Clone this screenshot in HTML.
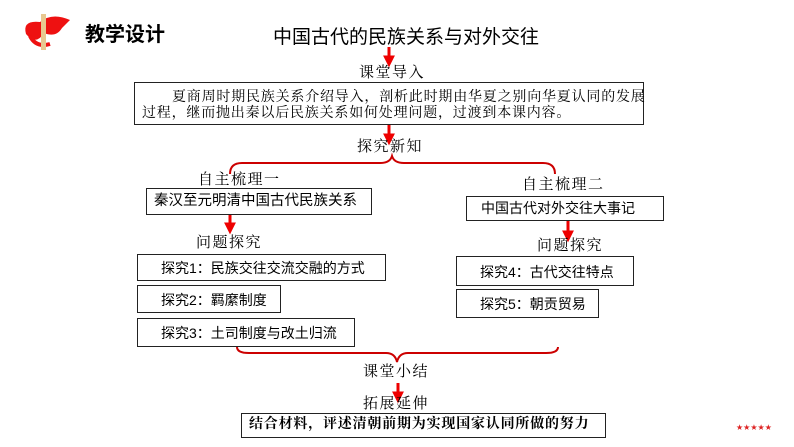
<!DOCTYPE html>
<html><head><meta charset="utf-8"><style>
html,body{margin:0;padding:0;background:#fff;}
body{width:794px;height:447px;position:relative;overflow:hidden;}
.t{position:absolute;white-space:nowrap;color:#000;line-height:1;}
.s{font-family:"Liberation Serif","Noto Serif CJK SC",serif;font-size:14px;letter-spacing:0.8px;}
.l{font-family:"Liberation Serif","Noto Serif CJK SC",serif;font-size:15px;letter-spacing:1.5px;}
.a{font-family:"Liberation Sans","Noto Sans CJK SC",sans-serif;font-size:14px;}
.b{position:absolute;border:1.3px solid #222;box-sizing:border-box;}
</style></head><body>
<svg width="794" height="447" style="position:absolute;left:0;top:0">
<defs><marker id="ar" markerWidth="4" markerHeight="4" refX="2.2" refY="2" orient="auto" markerUnits="strokeWidth"><path d="M0,0 L4,2 L0,4 z" fill="#e00"/></marker></defs>
<g stroke="#e00" stroke-width="3" fill="none">
<line x1="389" y1="47" x2="389" y2="62" marker-end="url(#ar)"/>
<line x1="389" y1="124" x2="389" y2="140" marker-end="url(#ar)"/>
<line x1="230" y1="214" x2="230" y2="229" marker-end="url(#ar)"/>
<line x1="568" y1="220" x2="568" y2="237" marker-end="url(#ar)"/>
<line x1="398" y1="383" x2="398" y2="398" marker-end="url(#ar)"/>
</g>
<g stroke="#c00" stroke-width="2" fill="none">
<path d="M230,174 Q230,163 242,163 L380,163 Q390,163 392,156 Q394,163 404,163 L543,163 Q555,163 555,174"/>
<path d="M237,347 Q237,353 249,353 L386,353 Q395,353 397,362 Q399,353 408,353 L546,353 Q558,353 558,347"/>
</g>
<g>
<path d="M26,34 Q22,20 40,22 Q52,12 70,20 L62,28 Q56,38 44,33 Q36,46 26,34z" fill="#e11"/>
<path d="M30,36 Q36,48 50,44" stroke="#e11" stroke-width="4" fill="none"/>
<rect x="41" y="14" width="5" height="36" fill="#e8c890"/>
</g>
</svg>
<div class="t" style="left:85px;top:25px;font-family:'Liberation Sans','Noto Sans CJK SC',sans-serif;font-size:20px;font-weight:bold;">教学设计</div>
<div class="t" style="left:273px;top:28px;font-family:'Liberation Sans','Noto Sans CJK SC',sans-serif;font-size:19px;">中国古代的民族关系与对外交往</div>
<div class="t l" style="left:359px;top:66px;">课堂导入</div>
<div class="b" style="left:134px;top:82px;width:510px;height:43px;"></div>
<div class="t s" style="left:172px;top:91px;">夏商周时期民族关系介绍导入，剖析此时期由华夏之别向华夏认同的发展</div>
<div class="t s" style="left:142px;top:107px;">过程，继而抛出秦以后民族关系如何处理问题，过渡到本课内容。</div>
<div class="t l" style="left:357px;top:140px;">探究新知</div>
<div class="t l" style="left:198px;top:173px;">自主梳理一</div>
<div class="b" style="left:146px;top:188px;width:226px;height:27px;"></div>
<div class="t a" style="left:154px;top:194px;font-size:14.5px;">秦汉至元明清中国古代民族关系</div>
<div class="t l" style="left:196px;top:236px;">问题探究</div>
<div class="b" style="left:137px;top:254px;width:249px;height:27px;"></div>
<div class="t a" style="left:161px;top:261px;">探究1：民族交往交流交融的方式</div>
<div class="b" style="left:137px;top:285px;width:144px;height:28px;"></div>
<div class="t a" style="left:161px;top:293px;">探究2：羁縻制度</div>
<div class="b" style="left:137px;top:318px;width:218px;height:29px;"></div>
<div class="t a" style="left:161px;top:326px;">探究3：土司制度与改土归流</div>
<div class="t l" style="left:522px;top:178px;">自主梳理二</div>
<div class="b" style="left:466px;top:196px;width:198px;height:25px;"></div>
<div class="t a" style="left:481px;top:201px;">中国古代对外交往大事记</div>
<div class="t l" style="left:537px;top:239px;">问题探究</div>
<div class="b" style="left:456px;top:256px;width:178px;height:30px;"></div>
<div class="t a" style="left:480px;top:265px;">探究4：古代交往特点</div>
<div class="b" style="left:456px;top:289px;width:143px;height:29px;"></div>
<div class="t a" style="left:480px;top:297px;">探究5：朝贡贸易</div>
<div class="t l" style="left:363px;top:365px;">课堂小结</div>
<div class="t l" style="left:363px;top:397px;">拓展延伸</div>
<div class="b" style="left:241px;top:413px;width:365px;height:25px;"></div>
<div class="t s" style="left:249px;top:418px;font-weight:bold;">结合材料，评述清朝前期为实现国家认同所做的努力</div>
<div class="t" style="left:736px;top:424px;color:#d22;font-size:8px;font-family:'DejaVu Sans',sans-serif;">★★★★★</div>
</body></html>
